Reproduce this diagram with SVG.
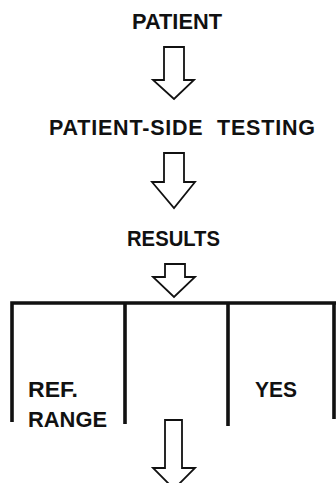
<svg xmlns="http://www.w3.org/2000/svg" width="336" height="483" viewBox="0 0 336 483">
<style>
text{font-family:"Liberation Sans",Arial,Helvetica,sans-serif;font-weight:bold;font-size:21.5px;fill:#111}
.arrow{fill:#fff;stroke:#111;stroke-width:1.8;stroke-linejoin:miter}
.box{fill:none;stroke:#111;stroke-width:3.6;stroke-linecap:butt}
</style>
<rect width="336" height="483" fill="#fff"/>
<g id="patient"><text x="177" y="29" text-anchor="middle" textLength="90" lengthAdjust="spacingAndGlyphs">PATIENT</text></g>
<g id="testing"><text x="49" y="135" textLength="266" lengthAdjust="spacing" xml:space="preserve" style="white-space:pre">PATIENT-SIDE  TESTING</text></g>
<g id="results"><text x="127" y="246" textLength="93" lengthAdjust="spacingAndGlyphs">RESULTS</text></g>
<g id="outcomes">
<path class="box" d="M12,422 V303 H336 M125,303 V424 M228,303 V426 M334,303 V419"/>
<text x="28" y="397" textLength="50" lengthAdjust="spacingAndGlyphs">REF.</text>
<text x="28" y="427" textLength="79" lengthAdjust="spacingAndGlyphs">RANGE</text>
<text x="255" y="397" textLength="42" lengthAdjust="spacingAndGlyphs">YES</text>
</g>
<g id="connectors">
<path class="arrow" d="M164,47 H184 V80 H194 L174,99 L153,80 H164 Z"/>
<path class="arrow" d="M164,153 H184 V182 H195 L174,208 L152,182 H164 Z"/>
<path class="arrow" d="M165,264 H185 V277 H195 L174,297 L153,277 H165 Z"/>
<path class="arrow" d="M165,420 H182 V468 H195 L174,489 L153,468 H165 Z"/>
</g>
</svg>
